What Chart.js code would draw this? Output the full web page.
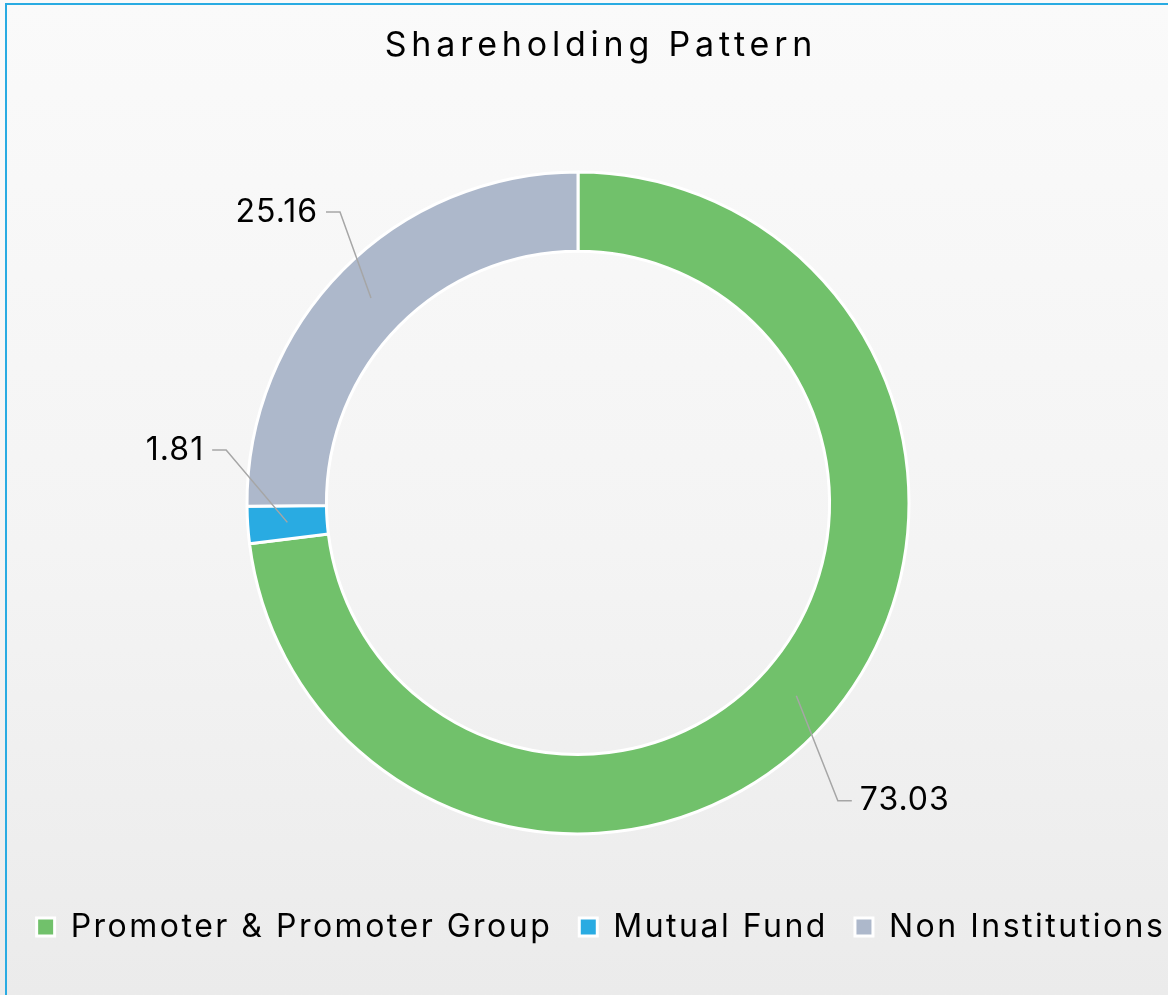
<!DOCTYPE html>
<html>
<head>
<meta charset="utf-8">
<title>Shareholding Pattern</title>
<script src="https://cdn.jsdelivr.net/npm/chart.js@4.4.1/dist/chart.umd.min.js"></script>
<style>
  html, body {
    margin: 0;
    padding: 0;
    width: 1168px;
    height: 995px;
    overflow: hidden;
    background: linear-gradient(180deg, #fafafa 0%, #f4f4f4 55%, #ebebeb 100%);
  }
  .frame {
    position: absolute;
    left: 5px;
    top: 3px;
    width: 1200px;
    height: 1020px;
    border-top: 2px solid #29abe2;
    border-left: 2px solid #29abe2;
  }
  #holding-chart {
    position: absolute;
    left: 0;
    top: 0;
  }
</style>
</head>
<body>
<div class="frame"></div>
<canvas id="holding-chart" width="1202" height="995"></canvas>
<script>
const categories = ["Promoter & Promoter Group", "Mutual Fund", "Non Institutions"];
const holdings = [73.03, 1.81, 25.16];
const sliceColors = ["#71c16b", "#29abe2", "#adb8cb"];

const FONT = "Inter, 'Open Sans', sans-serif";

// where each callout bends, in units of the outer radius from the centre
const calloutBends = [
    { dx: 0.785, dy: 0.900 },
    { dx: -1.063, dy: -0.160 },
    { dx: -0.719, dy: -0.879 },
];

// keeps some room on the right so the ring sits a little left of the title/legend
const rightGutter = {
    id: "rightGutter",
    beforeInit(chart) {
        Chart.layouts.addBox(chart, {
            position: "right",
            weight: 0,
            fullSize: false,
            options: {},
            isHorizontal() { return false; },
            update(maxWidth, maxHeight) {
                this.width = 46;
                this.height = maxHeight;
            },
            draw() {},
        });
    },
};

// the text is set a little wider than the font's default spacing
const textSpacing = {
    id: "textSpacing",
    afterInit(chart) {
        const block = chart.titleBlock;
        const drawTitle = block.draw.bind(block);
        block.draw = () => {
            const ctx = chart.ctx;
            const prev = ctx.letterSpacing;
            ctx.letterSpacing = "4.8px";
            drawTitle();
            ctx.letterSpacing = prev;
        };
    },
    beforeUpdate(chart) {
        chart.ctx.letterSpacing = "2.5px";
    },
    beforeDraw(chart) {
        chart.ctx.letterSpacing = "2.5px";
    },
};

// value labels with leader lines from the middle of each slice
const sliceCallouts = {
    id: "sliceCallouts",
    afterDatasetsDraw(chart) {
        const ctx = chart.ctx;
        const arcs = chart.getDatasetMeta(0).data;
        const values = chart.data.datasets[0].data;
        ctx.save();
        ctx.font = "32px " + FONT;
        ctx.letterSpacing = "1px";
        ctx.textBaseline = "middle";
        arcs.forEach((arc, i) => {
            const { x, y, startAngle, endAngle, innerRadius, outerRadius } =
                arc.getProps(["x", "y", "startAngle", "endAngle", "innerRadius", "outerRadius"], true);
            const mid = (startAngle + endAngle) / 2;
            const r = (innerRadius + outerRadius) / 2;
            const ax = x + Math.cos(mid) * r;
            const ay = y + Math.sin(mid) * r;
            const bx = x + calloutBends[i].dx * outerRadius;
            const by = y + calloutBends[i].dy * outerRadius;
            const dir = calloutBends[i].dx >= 0 ? 1 : -1;
            const ex = bx + dir * 14;

            ctx.strokeStyle = "#a6a6a6";
            ctx.lineWidth = 1.5;
            ctx.beginPath();
            ctx.moveTo(ax, ay);
            ctx.lineTo(bx, by);
            ctx.lineTo(ex, by);
            ctx.stroke();

            ctx.fillStyle = "#000";
            ctx.textAlign = dir > 0 ? "left" : "right";
            ctx.fillText(values[i].toFixed(2), ex + dir * 8, by);
        });
        ctx.restore();
    },
};

new Chart(document.getElementById("holding-chart"), {
    type: "doughnut",
    data: {
        labels: categories,
        datasets: [
            {
                data: holdings,
                backgroundColor: sliceColors,
                borderColor: "#ffffff",
                borderWidth: 3,
                radius: 331,
                cutout: "76%",
            },
        ],
    },
    options: {
        responsive: false,
        animation: false,
        layout: { padding: { bottom: 42 } },
        plugins: {
            title: {
                display: true,
                text: "Shareholding Pattern",
                color: "#000",
                font: { family: FONT, size: 34, weight: "normal" },
                padding: { top: 25, bottom: 56 },
            },
            legend: {
                position: "bottom",
                labels: {
                    color: "#000",
                    font: { family: FONT, size: 32 },
                    boxWidth: 18,
                    boxHeight: 18,
                    padding: 27,
                },
            },
            tooltip: { enabled: false },
        },
    },
    plugins: [rightGutter, textSpacing, sliceCallouts],
});
</script>
</body>
</html>
